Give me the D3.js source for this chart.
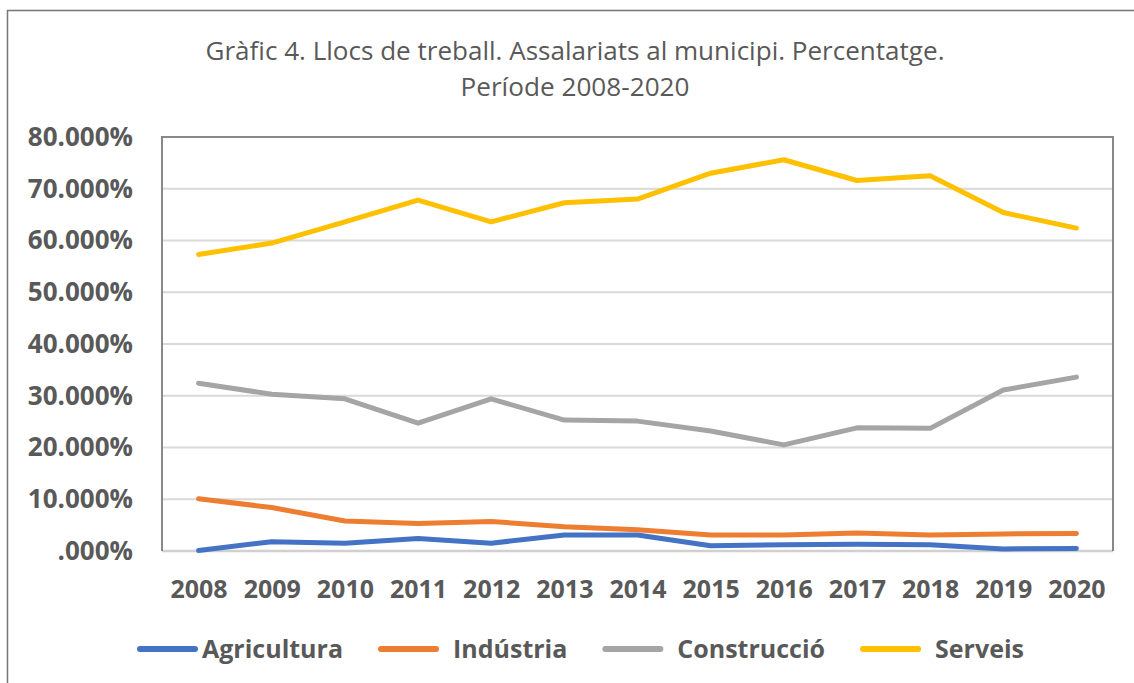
<!DOCTYPE html>
<html>
<head>
<meta charset="utf-8">
<script src="https://cdn.jsdelivr.net/npm/d3@7"></script>
<style>
  body { margin: 0; background: #fff; }
  svg { display: block; font-family: "Open Sans", sans-serif; }
</style>
</head>
<body>
<svg id="chart" width="1134" height="683"></svg>
<script>
// dades del grafic (percentatge d'assalariats per sector)
var anys = ["2008","2009","2010","2011","2012","2013","2014","2015","2016","2017","2018","2019","2020"];
var agricultura = [0.1, 1.8, 1.5, 2.4, 1.5, 3.1, 3.1, 1.0, 1.2, 1.3, 1.2, 0.4, 0.5];
var industria   = [10.1, 8.4, 5.8, 5.3, 5.7, 4.7, 4.1, 3.1, 3.1, 3.5, 3.1, 3.3, 3.4];
var construccio = [32.4, 30.3, 29.4, 24.7, 29.4, 25.3, 25.1, 23.2, 20.5, 23.8, 23.7, 31.1, 33.6];
var serveis     = [57.3, 59.5, 63.6, 67.8, 63.6, 67.3, 68.0, 73.0, 75.6, 71.6, 72.5, 65.4, 62.4];

var noms_series = ["Agricultura", "Indústria", "Construcció", "Serveis"];
var colors = ["#4472C4", "#ED7D31", "#A5A5A5", "#FFC000"];

var y_ticks = [0, 10, 20, 30, 40, 50, 60, 70, 80];
var y_labels = [".000%", "10.000%", "20.000%", "30.000%", "40.000%", "50.000%", "60.000%", "70.000%", "80.000%"];

var titol = ["Gràfic 4. Llocs de treball. Assalariats al municipi. Percentatge.", "Període 2008-2020"];

var series = [agricultura, industria, construccio, serveis];

let svg = d3.select("#chart");
let textColor = "#595959";

// marc exterior
svg.append("path")
    .attr("d", "M7.5,690 V10.5 H1140")
    .attr("fill", "none")
    .attr("stroke", "#767676")
    .attr("stroke-width", 1.5);

// titol
let titleW = [739, 229];
titol.forEach((t, i) => {
    let tx = svg.append("text")
        .attr("x", 575)
        .attr("y", 60 + i * 36)
        .attr("text-anchor", "middle")
        .attr("fill", textColor)
        .style("font-size", "25px")
        .style("font-weight", 400)
        .text(t);
    tx.attr("textLength", titleW[i]).attr("lengthAdjust", "spacingAndGlyphs");
});

let pLeft = 162, pRight = 1113, pTop = 137, pBottom = 551;

let x = d3.scalePoint()
    .domain(anys)
    .range([pLeft, pRight])
    .padding(0.5);

let y = d3.scaleLinear()
    .domain([0, 80])
    .range([pBottom, pTop]);

// linies de graella
svg.append("g")
    .selectAll("line")
    .data(y_ticks.filter(d => d > 0 && d < 80))
    .enter().append("line")
    .attr("x1", pLeft).attr("x2", pRight)
    .attr("y1", d => y(d)).attr("y2", d => y(d))
    .attr("stroke", "#d9d9d9")
    .attr("stroke-width", 2);

// eix inferior
svg.append("line")
    .attr("x1", pLeft).attr("x2", pRight)
    .attr("y1", y(0)).attr("y2", y(0))
    .attr("stroke", "#d0d0d0")
    .attr("stroke-width", 2.5);

// vora de l'area de dibuix
svg.append("path")
    .attr("d", "M" + pLeft + "," + y(0) + " V" + pTop + " H" + pRight + " V" + y(0))
    .attr("fill", "none")
    .attr("stroke", "#888888")
    .attr("stroke-width", 2);

// eix Y
let yAxis = svg.append("g")
    .attr("transform", "translate(" + pLeft + ",0)")
    .call(d3.axisLeft(y)
        .tickValues(y_ticks)
        .tickSize(0)
        .tickPadding(29)
        .tickFormat((d, i) => y_labels[i]));
yAxis.select(".domain").remove();
yAxis.selectAll("text")
    .attr("fill", textColor)
    .style("font-size", "26px")
    .style("font-weight", 700)
    .style("font-family", "'Open Sans', sans-serif");

// eix X
let xAxis = svg.append("g")
    .attr("transform", "translate(0," + pBottom + ")")
    .call(d3.axisBottom(x).tickSize(0).tickPadding(29));
xAxis.select(".domain").remove();
xAxis.selectAll("text")
    .attr("fill", textColor)
    .style("font-size", "25px")
    .style("font-weight", 700)
    .style("font-family", "'Open Sans', sans-serif");

// series
let line = d3.line()
    .x((d, i) => x(anys[i]))
    .y(d => y(d));

svg.append("g")
    .selectAll("path")
    .data(series)
    .enter().append("path")
    .attr("d", d => line(d))
    .attr("fill", "none")
    .attr("stroke", (d, i) => colors[i])
    .attr("stroke-width", 5)
    .attr("stroke-linecap", "round")
    .attr("stroke-linejoin", "round");

// llegenda
let lx = 140;
let legend = svg.append("g");
noms_series.forEach((nom, i) => {
    legend.append("line")
        .attr("x1", lx).attr("x2", lx + 55)
        .attr("y1", 649).attr("y2", 649)
        .attr("stroke", colors[i])
        .attr("stroke-width", 6)
        .attr("stroke-linecap", "round");
    let gap = i === 0 ? 7 : 17;
    let t = legend.append("text")
        .attr("x", lx + 55 + gap)
        .attr("y", 658)
        .attr("fill", textColor)
        .style("font-size", "25px")
        .style("font-weight", 700)
        .text(nom);
    lx = lx + 55 + gap + t.node().getComputedTextLength() + 38;
});
</script>
</body>
</html>
